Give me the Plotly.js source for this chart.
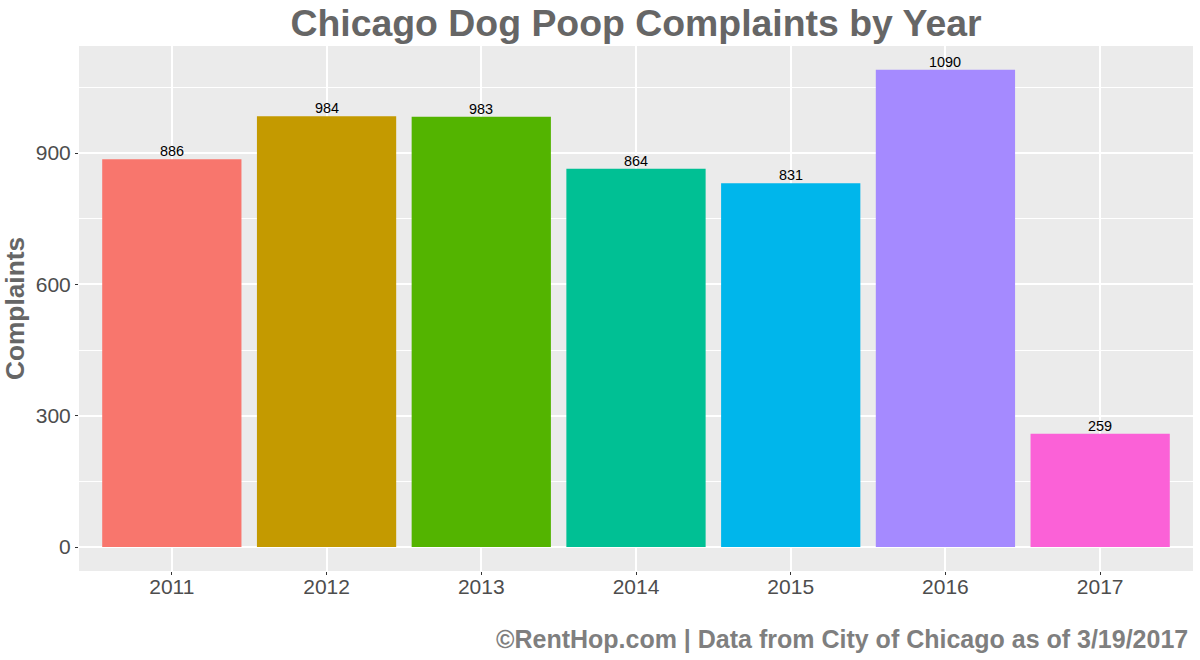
<!DOCTYPE html>
<html><head><meta charset="utf-8"><script src="https://cdn.plot.ly/plotly-3.0.0.min.js"></script>
<style>html,body{margin:0;padding:0;background:#fff}</style></head>
<body><div id="c" style="width:1200px;height:660px"></div>
<script>
const years=['2011','2012','2013','2014','2015','2016','2017'];
const complaints=[886,984,983,864,831,1090,259];
const barColors=['#F8766D','#C49A00','#53B400','#00C094','#00B6EB','#A58AFF','#FB61D7'];
const yTicks=[0,300,600,900];
const minorTicks=[150,450,750,1050];
const font='"Liberation Sans", Arial, sans-serif';
const valueLabels=years.map((yr,i)=>({x:i,y:complaints[i],xref:'x',yref:'y',text:String(complaints[i]),showarrow:false,
  yanchor:'bottom',yshift:-2,font:{family:font,size:14.4,color:'#000'}}));
Plotly.newPlot('c',[{
 type:'bar',x:years,y:complaints,width:0.9,
 marker:{color:barColors,line:{width:0}},hoverinfo:'x+y'
}],{
 width:1200,height:660,paper_bgcolor:'#fff',plot_bgcolor:'#EBEBEB',showlegend:false,
 margin:{l:79,r:7,t:46,b:89},
 title:{text:'<b>Chicago Dog Poop Complaints by Year</b>',font:{family:font,size:37.4,color:'#666666'},x:0.53,xanchor:'center',y:0.965,yanchor:'middle',pad:{t:0,b:0}},
 xaxis:{type:'category',categoryorder:'array',categoryarray:years,range:[-0.6,6.6],tickfont:{family:font,size:21,color:'#4D4D4D'},ticklabelstandoff:-6,
  showgrid:true,gridcolor:'#fff',gridwidth:1.5,zeroline:false,ticks:'outside',ticklen:3,tickcolor:'#333',tickwidth:1,showline:false},
 yaxis:{range:[-54.8,1144.5],tickvals:yTicks,ticktext:yTicks.map(String),tickfont:{family:font,size:21,color:'#4D4D4D'},
  title:{text:'<b>Complaints</b>',font:{family:font,size:26.3,color:'#666666'},standoff:9},
  showgrid:true,gridcolor:'#fff',gridwidth:1.5,zeroline:false,ticks:'outside',ticklen:3,tickcolor:'#333',tickwidth:1,
  minor:{tickvals:minorTicks,showgrid:true,gridcolor:'#fff',gridwidth:0.8,ticks:''}},
 annotations:valueLabels.concat([{text:'<b>©RentHop.com | Data from City of Chicago as of 3/19/2017</b>',xref:'paper',yref:'paper',x:1,xanchor:'right',xshift:-3,y:0,yanchor:'top',yshift:-52,showarrow:false,font:{family:font,size:25,color:'#7F7F7F'}}])
},{displayModeBar:false,responsive:false});
</script></body></html>
